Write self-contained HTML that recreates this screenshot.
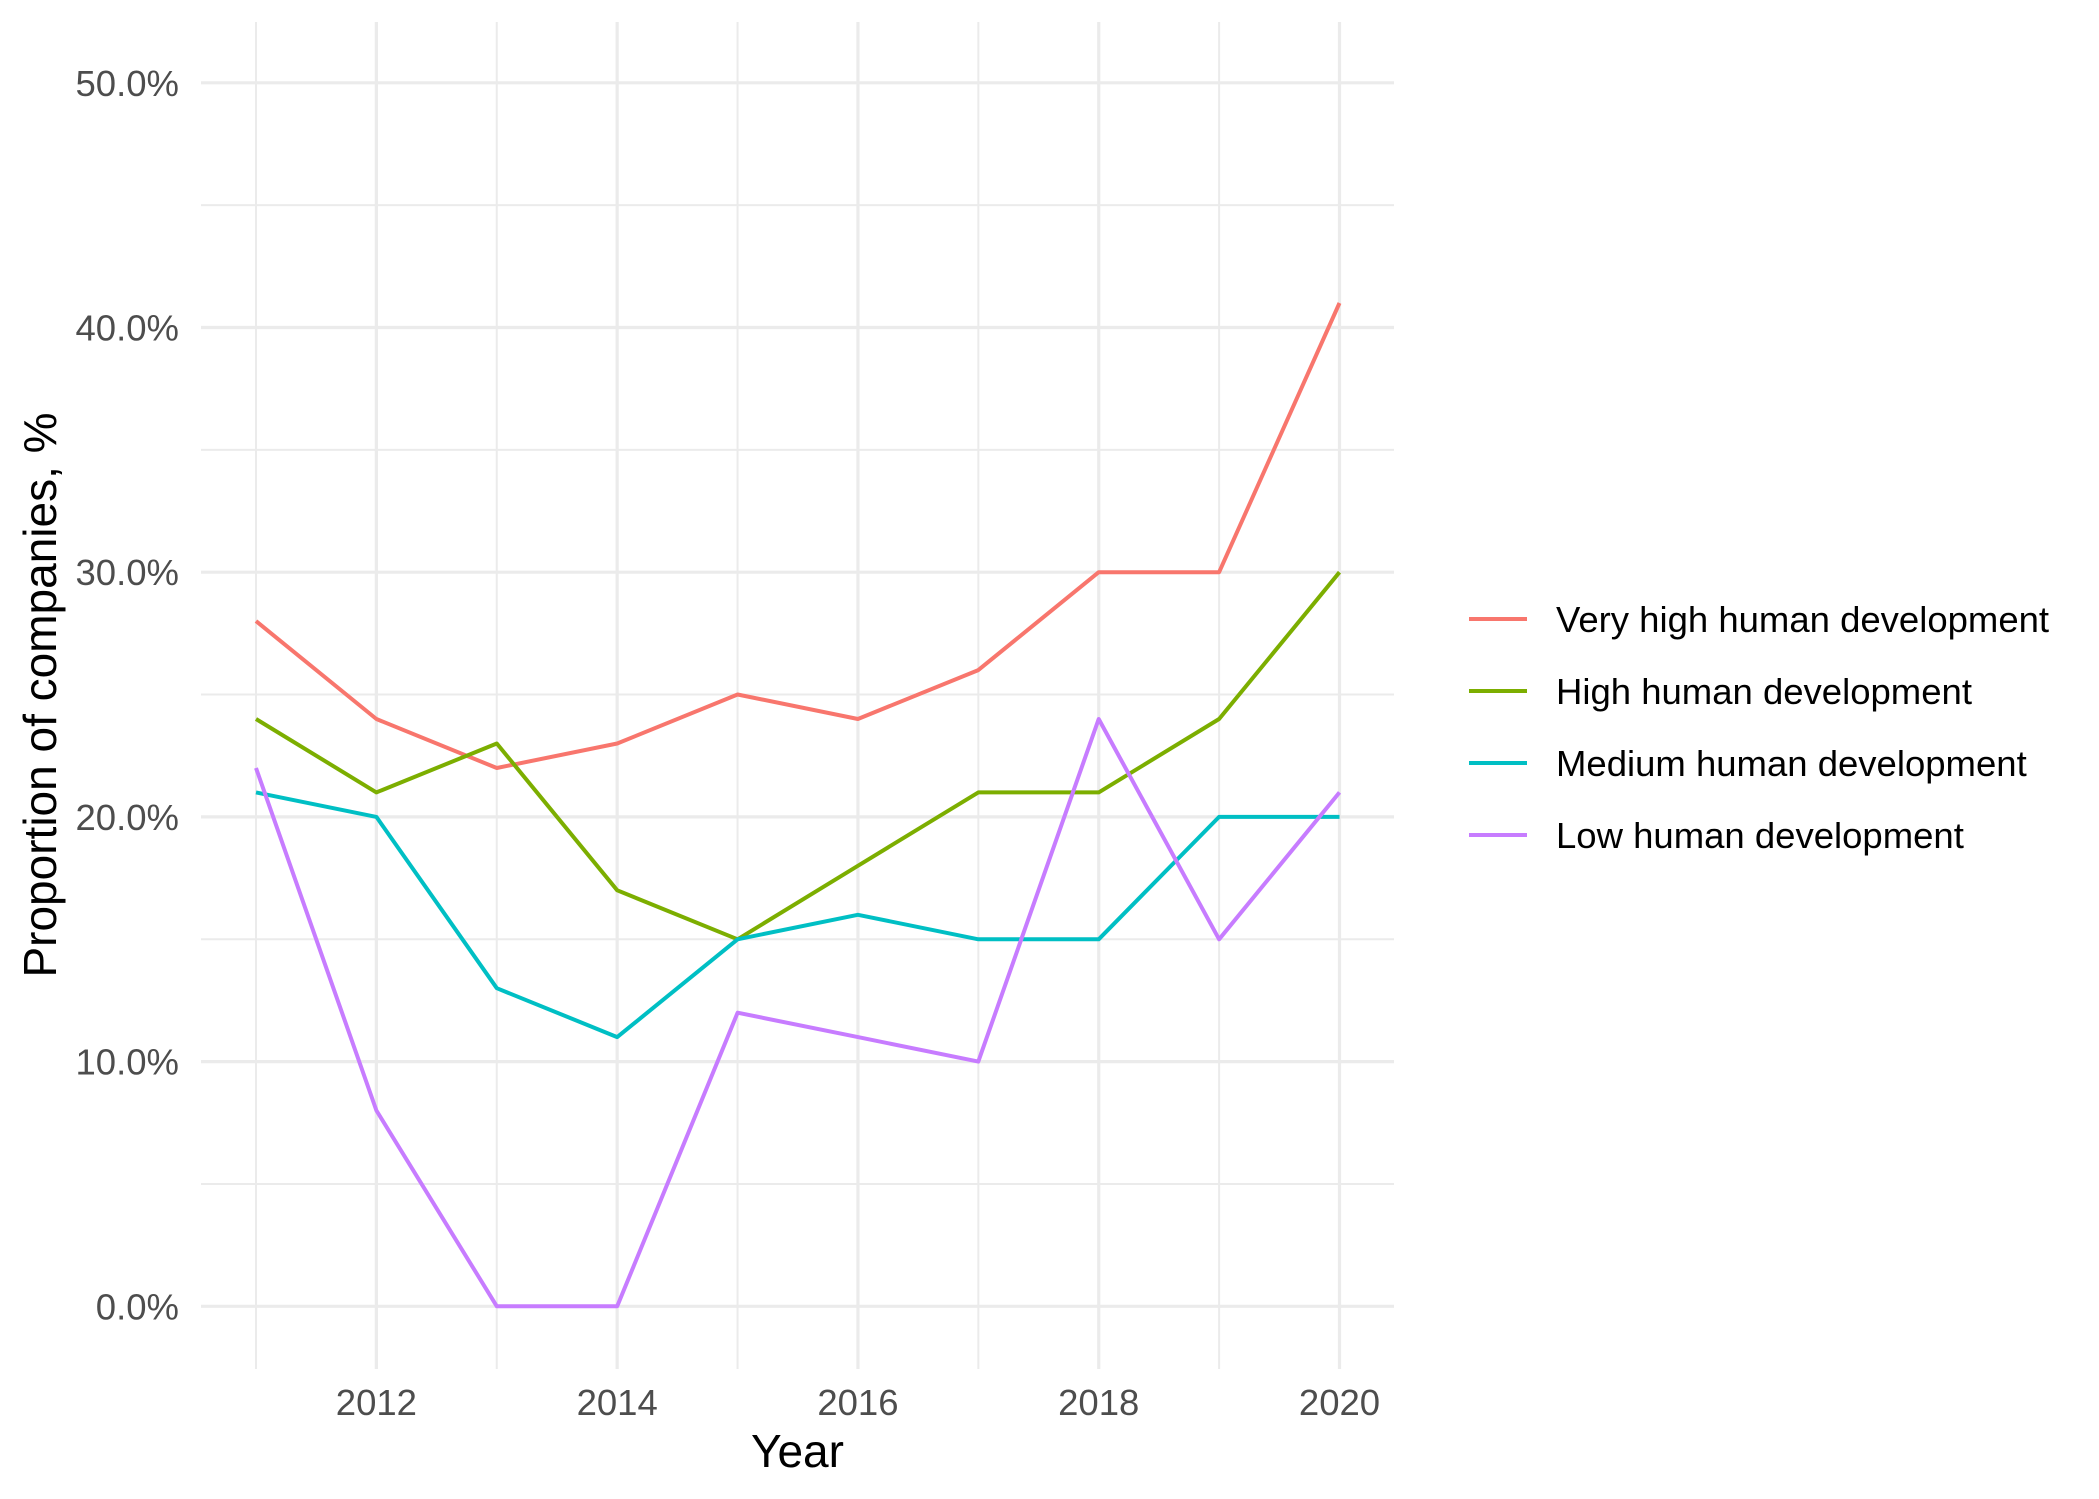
<!DOCTYPE html>
<html><head><meta charset="utf-8"><style>
html,body{margin:0;padding:0;background:#fff;}
svg{display:block;}
</style></head><body>
<svg id="chart" width="2099" height="1499" viewBox="0 0 2099 1499" xmlns="http://www.w3.org/2000/svg" font-family="'Liberation Sans', sans-serif">
<rect x="0" y="0" width="2099" height="1499" fill="#fff"/>
<g id="grid"></g>
<g id="yticks"></g>
<g id="xticks"></g>
<g id="series"></g>
<text x="797.5" y="1467" font-size="46" text-anchor="middle" fill="#000">Year</text>
<text x="0" y="0" font-size="46" text-anchor="middle" fill="#000" transform="translate(56,695) rotate(-90)">Proportion of companies, %</text>
<g id="legend"></g>
</svg>
<script>
const years = [2011,2012,2013,2014,2015,2016,2017,2018,2019,2020];
const veryHigh = [28,24,22,23,25,24,26,30,30,41];
const high = [24,21,23,17,15,18,21,21,24,30];
const medium = [21,20,13,11,15,16,15,15,20,20];
const low = [22,8,0,0,12,11,10,24,15,21];
const seriesNames = ["Very high human development","High human development","Medium human development","Low human development"];
const yTicks = [0,10,20,30,40,50];
const yTickLabels = ["0.0%","10.0%","20.0%","30.0%","40.0%","50.0%"];
const xTicks = [2012,2014,2016,2018,2020];

const NS = "http://www.w3.org/2000/svg";
const colors = ["#F8766D","#7CAE00","#00BFC4","#C77CFF"];
const allSeries = [veryHigh, high, medium, low];
const panel = {left:201, right:1394, top:22, bottom:1369};
function xScale(v){ return 256 + (v-2011)*(1339.5-256)/9; }
function yScale(v){ return 1306.3 - v*(1306.3-82.8)/50; }
function mk(tag, attrs, parent){
  const el = document.createElementNS(NS, tag);
  for (const k in attrs) el.setAttribute(k, attrs[k]);
  parent.appendChild(el);
  return el;
}
const grid = document.getElementById('grid');
// minor y gridlines
for (let v=5; v<50; v+=10){
  const l = mk('line',{x1:panel.left,x2:panel.right,y1:yScale(v),y2:yScale(v),stroke:'#EBEBEB','stroke-width':2},grid);
  
  
}
// x gridlines (every year)
years.forEach(y=>{
  const major = xTicks.indexOf(y)>=0;
  const l = mk('line',{x1:xScale(y),x2:xScale(y),y1:panel.top,y2:panel.bottom,stroke:'#EBEBEB','stroke-width':major?3.2:2},grid);
  
  
});
const yt = document.getElementById('yticks');
yTicks.forEach((v,i)=>{
  const l = mk('line',{x1:panel.left,x2:panel.right,y1:yScale(v),y2:yScale(v),stroke:'#EBEBEB','stroke-width':3.2},grid);
  
  
  const t = mk('text',{x:179,y:yScale(v)+13,'font-size':36.5,'text-anchor':'end',fill:'#4D4D4D'},yt);
  t.textContent = yTickLabels[i];
  
  
});
const xt = document.getElementById('xticks');
xTicks.forEach(v=>{
  const t = mk('text',{x:xScale(v),y:1415,'font-size':36.5,'text-anchor':'middle',fill:'#4D4D4D'},xt);
  t.textContent = String(v);
  
  
});
const sg = document.getElementById('series');
allSeries.forEach((vals,si)=>{
  const pts = vals.map((v,i)=>xScale(years[i]).toFixed(1)+','+yScale(v).toFixed(1)).join(' ');
  const p = mk('polyline',{points:pts,fill:'none',stroke:colors[si],'stroke-width':4,'stroke-linejoin':'round'},sg);
  
  
});
const lg = document.getElementById('legend');
seriesNames.forEach((n,i)=>{
  const cy = 619 + i*72;
  const l = mk('line',{x1:1469,x2:1527,y1:cy,y2:cy,stroke:colors[i],'stroke-width':4},lg);
  
  
  const t = mk('text',{x:1556,y:cy+13,'font-size':36.5,fill:'#000'},lg);
  t.textContent = n;
  
  
});
</script>
</body></html>
